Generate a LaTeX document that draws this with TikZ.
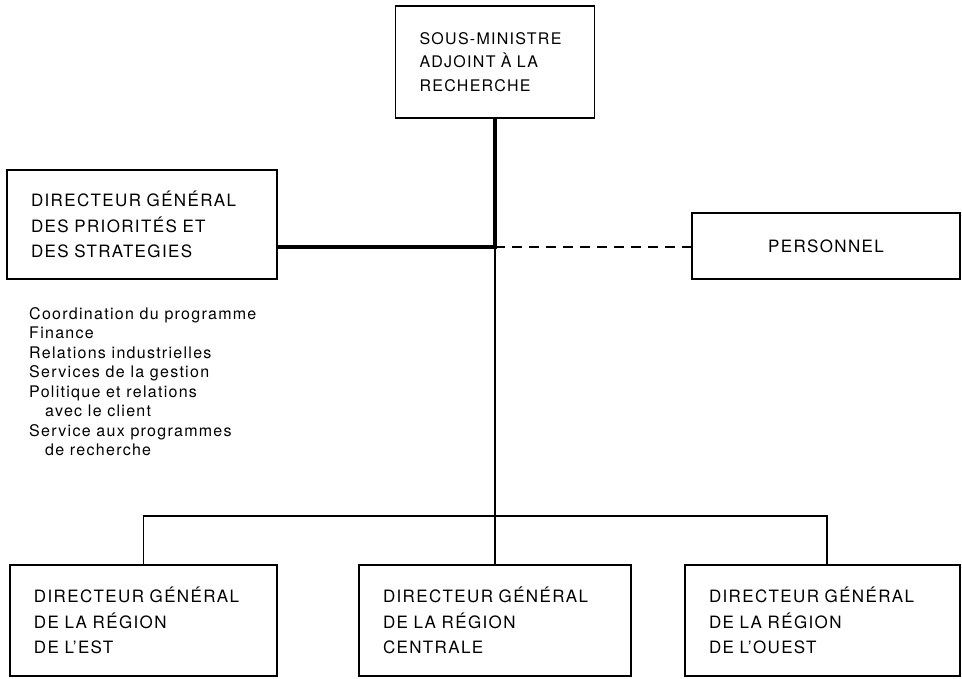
\documentclass[tikz,border=0pt]{standalone}
\usepackage{fontspec}
\setmainfont{TeX Gyre Heros}
\begin{document}
\begin{tikzpicture}[x=1pt,y=-1pt,
  thin line/.style={line width=1.6pt},
  thick line/.style={line width=4pt},
  box node/.style={draw,line width=1.5pt,inner xsep=24pt,align=left,
    font=\fontsize{17}{25.5}\selectfont\addfontfeature{LetterSpace=8}},
  list node/.style={anchor=north west,inner sep=0pt,align=left,
    font=\fontsize{16}{19.5}\selectfont\addfontfeature{LetterSpace=8}}]

  \useasboundingbox (0,0) rectangle (962,678);

  \node[box node,minimum width=199pt,minimum height=112pt,text width=151pt,
    font=\fontsize{16}{23.5}\selectfont\addfontfeature{LetterSpace=8}] (sm) at (495,62)
    {\mbox{SOUS-MINISTRE}\\ADJOINT À LA\\RECHERCHE};
  \node[box node,minimum width=270pt,minimum height=109pt,text width=222pt] (prio) at (142,224.5)
    {DIRECTEUR GÉNÉRAL\\DES PRIORITÉS ET\\DES STRATEGIES};
  \node[box node,minimum width=268pt,minimum height=66pt] (pers) at (826,246) {PERSONNEL};

  \node[list node] (liste) at (29,307)
    {Coordination du programme\\Finance\\Relations industrielles\\Services de la gestion\\
     Politique et relations\\\hspace*{16pt}avec le client\\Service aux programmes\\
     \hspace*{16pt}de recherche};

  \node[box node,minimum width=267pt,minimum height=111pt,text width=219pt] (est) at (143.5,620.5)
    {DIRECTEUR GÉNÉRAL\\DE LA RÉGION\\DE L'EST};
  \node[box node,minimum width=272pt,minimum height=111pt,text width=224pt] (centre) at (495,620.5)
    {DIRECTEUR GÉNÉRAL\\DE LA RÉGION\\CENTRALE};
  \node[box node,minimum width=275pt,minimum height=111pt,text width=227pt] (ouest) at (822.5,620.5)
    {DIRECTEUR GÉNÉRAL\\DE LA RÉGION\\DE L'OUEST};

  \coordinate (j) at (495,247);
  \coordinate (bar) at (495,516);

  \draw[thick line] (sm.south) -- (j) -- (j -| prio.east);
  \draw[line width=1.4pt,dash pattern=on 10pt off 7pt] (j) -- (j -| pers.west);
  \draw[thin line] (j) -- (bar) -- (centre.north);
  \draw[thin line] (est.north) |- (bar) -| ([xshift=4.5pt]ouest.north);
\end{tikzpicture}
\end{document}
